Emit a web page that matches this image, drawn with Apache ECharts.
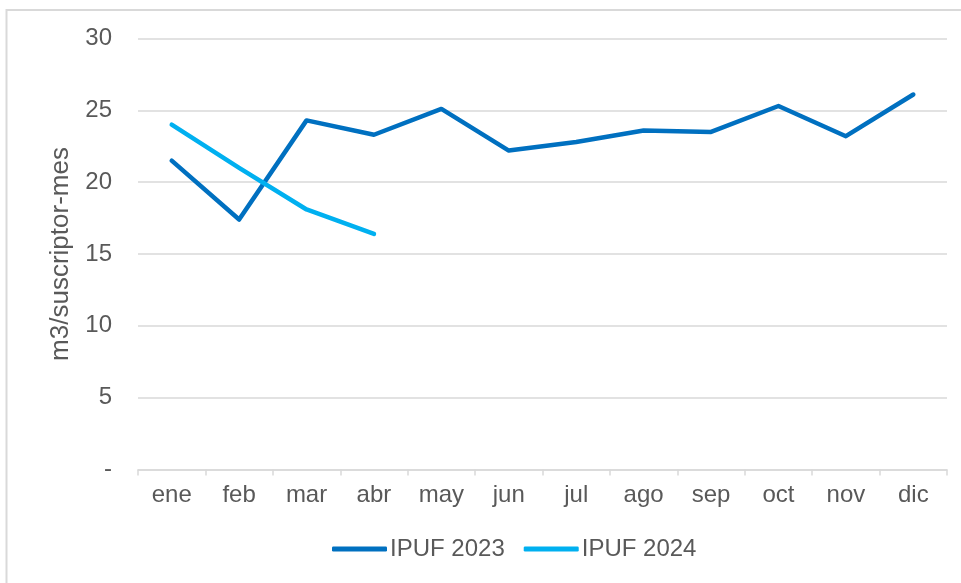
<!DOCTYPE html>
<html>
<head>
<meta charset="utf-8">
<script src="https://cdn.jsdelivr.net/npm/echarts@6/dist/echarts.min.js"></script>
<style>
  html, body { margin: 0; padding: 0; background: #fff; }
  #chart { width: 961px; height: 583px; }
</style>
</head>
<body>
<div id="chart"></div>
<script>
// Monthly consumption per subscriber (m3/suscriptor-mes)
const months = ['ene', 'feb', 'mar', 'abr', 'may', 'jun', 'jul', 'ago', 'sep', 'oct', 'nov', 'dic'];
const ipuf2023 = [21.5, 17.4, 24.3, 23.3, 25.1, 22.2, 22.8, 23.6, 23.5, 25.3, 23.2, 26.1];
const ipuf2024 = [24.0, 21.0, 18.1, 16.4];
const seriesNames = ['IPUF 2023', 'IPUF 2024'];
const yTicks = [0, 5, 10, 15, 20, 25, 30];

const textColor = '#595959';
const fontFamily = '"Liberation Sans", Arial, sans-serif';

const chart = echarts.init(document.getElementById('chart'), null, { renderer: 'canvas' });

chart.setOption({
  backgroundColor: '#ffffff',
  animation: false,
  textStyle: { fontFamily: fontFamily, color: textColor },
  graphic: [{
    // chart frame, open towards the right and bottom edges
    type: 'rect',
    shape: { x: 6.5, y: 10, width: 1100, height: 1000 },
    style: { fill: 'none', stroke: '#d9d9d9', lineWidth: 2 },
    silent: true
  }],
  grid: { left: 138, right: 14, top: 38.5, bottom: 113.5, containLabel: false },
  legend: {
    top: 532,
    left: 327,
    itemWidth: 55,
    itemHeight: 5,
    itemGap: 19,
    icon: 'roundRect',
    textStyle: { fontSize: 24, color: textColor, fontFamily: fontFamily, padding: [0, 0, 0, -2] },
    data: seriesNames
  },
  xAxis: {
    type: 'category',
    data: months,
    boundaryGap: true,
    axisLine: { show: true, lineStyle: { color: '#d9d9d9', width: 1.5 } },
    axisTick: { show: true, length: 6, lineStyle: { color: '#d9d9d9', width: 1.5 } },
    axisLabel: { fontSize: 24, color: textColor, margin: 14, fontFamily: fontFamily },
    splitLine: { show: false }
  },
  yAxis: {
    type: 'value',
    min: yTicks[0],
    max: yTicks[yTicks.length - 1],
    interval: yTicks[1] - yTicks[0],
    name: 'm3/suscriptor-mes',
    nameLocation: 'middle',
    nameGap: 64,
    nameRotate: 90,
    nameTextStyle: { fontSize: 26, color: textColor, fontFamily: fontFamily },
    axisLine: { show: false },
    axisTick: { show: false },
    axisLabel: {
      fontSize: 24,
      color: textColor,
      margin: 26,
      fontFamily: fontFamily,
      formatter: v => (v === 0 ? '-' : String(v))
    },
    splitLine: { show: true, lineStyle: { color: '#d9d9d9', width: 1.5 } }
  },
  series: [
    {
      name: seriesNames[0],
      type: 'line',
      data: ipuf2023,
      symbol: 'none',
      lineStyle: { color: '#0070C0', width: 4.5, cap: 'round', join: 'round' },
      itemStyle: { color: '#0070C0' }
    },
    {
      name: seriesNames[1],
      type: 'line',
      data: ipuf2024,
      symbol: 'none',
      lineStyle: { color: '#00B0F0', width: 4.5, cap: 'round', join: 'round' },
      itemStyle: { color: '#00B0F0' }
    }
  ]
});
</script>
</body>
</html>
